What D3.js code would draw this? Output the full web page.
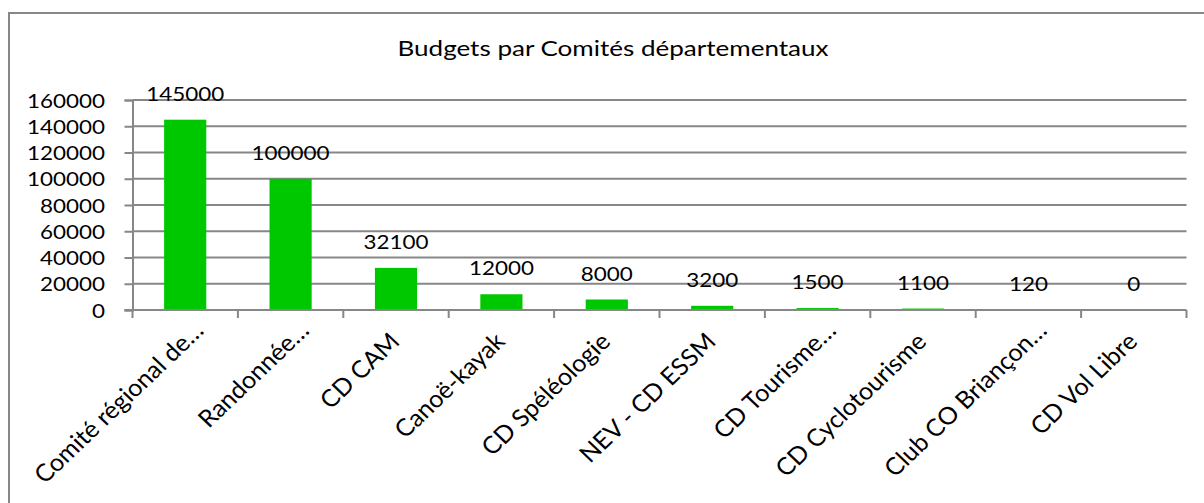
<!DOCTYPE html>
<html>
<head>
<meta charset="utf-8">
<script src="https://cdn.jsdelivr.net/npm/d3@7.9.0/dist/d3.min.js"></script>
<style>
  body { margin: 0; background: #fff; }
  svg { display: block; font-family: Lato, "Open Sans", sans-serif; }
</style>
</head>
<body>
<svg id="chart" width="1204" height="503"></svg>
<script>
// data
const categories = [
  "Comité régional de…",
  "Randonnée…",
  "CD CAM",
  "Canoë-kayak",
  "CD Spéléologie",
  "NEV - CD ESSM",
  "CD Tourisme…",
  "CD Cyclotourisme",
  "Club CO Briançon…",
  "CD Vol Libre"
];
const budgets = [145000, 100000, 32100, 12000, 8000, 3200, 1500, 1100, 120, 0];
const yTicks = [0, 20000, 40000, 60000, 80000, 100000, 120000, 140000, 160000];
const title = "Budgets par Comités départementaux";

const svg = d3.select("#chart");
const plotLeft = 132.5, plotRight = 1186.5, plotTop = 100, plotBottom = 310;
const gray = "#878787";
// the reference is slightly stretched sideways, so text gets a horizontal scale
const numSize = 19.5, numStretch = 1.15;
const labelSize = 24, labelStretch = 1.05;

// outer frame (right and bottom edges fall outside the window)
svg.append("rect")
  .attr("x", 9).attr("y", 13)
  .attr("width", 1220).attr("height", 520)
  .attr("fill", "none")
  .attr("stroke", gray)
  .attr("stroke-width", 2);

svg.append("text")
  .attr("transform", "translate(613,56) scale(1.27,1)")
  .attr("text-anchor", "middle")
  .attr("font-size", 20.5)
  .text(title);

const data = categories.map((c, i) => ({ label: c, value: budgets[i] }));

const x = d3.scaleBand().domain(categories).range([plotLeft, plotRight]).padding(0);
const y = d3.scaleLinear().domain([0, 160000]).range([plotBottom, plotTop]);

// left ticks + labels
const yAxis = svg.append("g")
  .attr("transform", `translate(${plotLeft},0)`)
  .call(d3.axisLeft(y).tickValues(yTicks).tickSize(8).tickFormat(d3.format("d")));
yAxis.select(".domain").attr("stroke", gray).attr("stroke-width", 2);
yAxis.selectAll(".tick line").attr("stroke", gray).attr("stroke-width", 2);
yAxis.selectAll(".tick text")
  .attr("font-size", numSize)
  .attr("font-family", "Lato, sans-serif")
  .attr("fill", "#000")
  .attr("x", -27.5 / numStretch)
  .attr("dy", 7)
  .attr("transform", `scale(${numStretch},1)`);

// gridlines
svg.append("g")
  .selectAll("line")
  .data(yTicks.filter(d => d > 0))
  .join("line")
  .attr("x1", plotLeft).attr("x2", plotRight)
  .attr("y1", d => y(d)).attr("y2", d => y(d))
  .attr("stroke", gray)
  .attr("stroke-width", 2);

// bars
const barW = x.bandwidth() * 0.4;
svg.append("g")
  .selectAll("rect")
  .data(data)
  .join("rect")
  .attr("x", d => x(d.label) + (x.bandwidth() - barW) / 2)
  .attr("y", d => y(d.value))
  .attr("width", barW)
  .attr("height", d => plotBottom - y(d.value))
  .attr("fill", "#00c800");

// x axis line with ticks at category boundaries
const bounds = categories.map(c => x(c)).concat([plotRight]);
svg.append("line")
  .attr("x1", plotLeft - 8).attr("x2", plotRight)
  .attr("y1", plotBottom).attr("y2", plotBottom)
  .attr("stroke", gray).attr("stroke-width", 2);
svg.append("g")
  .selectAll("line")
  .data(bounds)
  .join("line")
  .attr("x1", d => d).attr("x2", d => d)
  .attr("y1", plotBottom).attr("y2", plotBottom + 8)
  .attr("stroke", gray).attr("stroke-width", 2);

// value labels
svg.append("g")
  .selectAll("text")
  .data(data)
  .join("text")
  .attr("transform", d => `translate(${x(d.label) + x.bandwidth() / 2},${y(d.value) - 19}) scale(${numStretch},1)`)
  .attr("text-anchor", "middle")
  .attr("font-size", numSize)
  .text(d => d.value);

// rotated category labels (truncated ones hang a bit further out, like Excel does)
svg.append("g")
  .selectAll("text")
  .data(data)
  .join("text")
  .attr("transform", d => {
    const cut = d.label.endsWith("…");
    const ax = x(d.label) + x.bandwidth() / 2 + (cut ? 20 : 5);
    const ay = cut ? 332 : 343;
    return `translate(${ax},${ay}) scale(${labelStretch},1) rotate(-45)`;
  })
  .attr("text-anchor", "end")
  .attr("font-size", labelSize)
  .text(d => d.label);
</script>
</body>
</html>
